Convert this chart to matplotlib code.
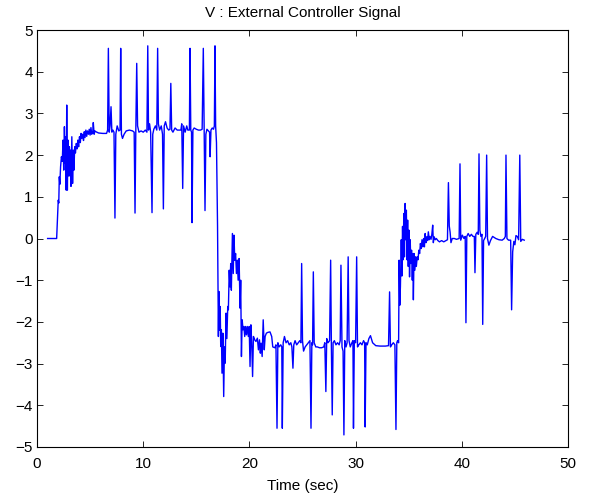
import numpy as np
import matplotlib.pyplot as plt

plt.rcParams['font.family'] = ['Liberation Sans', 'DejaVu Sans']

# start, step up and settling around +2.5
t_rise = [1.0, 1.85, 2.0, 2.05, 2.1, 2.15, 2.22, 2.3, 2.38, 2.45, 2.52, 2.58, 2.65, 2.7, 2.75,
          2.8, 2.86, 2.92, 2.98, 3.05, 3.1, 3.15, 3.2, 3.28, 3.35, 3.42, 3.48, 3.55, 3.62, 3.7,
          3.78, 3.85, 3.92, 4.0, 4.08, 4.15, 4.22, 4.3, 4.38, 4.45, 4.52, 4.6, 4.68, 4.75, 4.85,
          4.92, 5.0, 5.08, 5.15, 5.25, 5.3, 5.38, 5.45, 5.55, 5.8, 6.2, 6.55, 6.65]
v_rise = [0.0, 0.0, 0.92, 0.85, 1.48, 1.3, 1.72, 1.96, 1.85, 2.36, 1.64, 2.68, 1.8, 2.44, 1.16,
          3.2, 1.16, 2.36, 1.5, 2.2, 1.5, 2.12, 1.25, 2.44, 1.32, 2.12, 1.64, 2.2, 2.05, 2.28,
          2.15, 2.36, 2.2, 2.44, 2.3, 2.52, 2.4, 2.5, 2.35, 2.56, 2.42, 2.6, 2.45, 2.58, 2.5,
          2.62, 2.48, 2.66, 2.5, 2.55, 2.78, 2.5, 2.58, 2.56, 2.53, 2.52, 2.52, 2.6]

# spikes on the positive plateau
t_high = [6.72, 6.8, 6.88, 6.97, 7.05, 7.15, 7.25, 7.34, 7.42, 7.55, 7.7, 7.82, 7.88, 7.95, 8.05,
          8.2, 8.4, 8.7, 9.0, 9.15, 9.23, 9.3, 9.39, 9.47, 9.6, 9.8, 10.0, 10.2, 10.35, 10.43,
          10.5, 10.6, 10.7, 10.83, 10.9, 11.0, 11.15, 11.28, 11.36, 11.43, 11.55, 11.7, 11.82,
          11.9, 11.98, 12.1, 12.25, 12.4, 12.52, 12.6, 12.68, 12.8, 13.0, 13.2, 13.4, 13.55,
          13.63, 13.72, 13.8, 13.95, 14.1, 14.2, 14.35, 14.41, 14.48, 14.55, 14.6, 14.68, 14.8,
          15.0, 15.2, 15.4, 15.55, 15.66, 15.74, 15.82, 15.9, 16.0, 16.15, 16.25, 16.3, 16.38,
          16.5, 16.62, 16.7, 16.76, 16.82, 16.9]
v_high = [4.56, 2.55, 2.7, 3.16, 2.55, 2.6, 2.55, 0.49, 2.5, 2.7, 2.58, 2.6, 4.56, 2.5, 2.4,
          2.5, 2.58, 2.6, 2.58, 2.55, 0.61, 2.5, 4.2, 2.7, 2.55, 2.58, 2.55, 2.6, 2.55, 4.62,
          2.6, 2.75, 2.55, 0.62, 2.5, 2.62, 2.7, 2.6, 4.56, 2.75, 2.6, 2.7, 2.5,
          0.71, 2.7, 2.8, 2.65, 2.6, 2.62, 3.72, 2.6, 2.55, 2.65, 2.6, 2.6, 2.6,
          2.75, 1.2, 2.7, 2.55, 2.7, 2.6, 2.6, 4.56, 2.6, 2.55, 0.38, 2.6, 2.65,
          2.62, 2.6, 2.6, 2.62, 4.56, 2.6, 0.67, 2.5, 2.62, 2.58, 2.55, 1.96, 2.6,
          2.65, 2.62, 2.7, 4.62, 2.7, 2.3]

# drop to the negative plateau
t_fall = [17.0, 17.08, 17.13, 17.2, 17.25, 17.3, 17.36, 17.42, 17.5, 17.58, 17.65, 17.72, 17.8,
          17.88, 17.96, 18.02, 18.1, 18.17, 18.24, 18.3, 18.4, 18.48, 18.55, 18.62, 18.7, 18.78,
          18.86, 18.94, 19.03, 19.12, 19.18, 19.25, 19.32, 19.4, 19.48, 19.56, 19.64, 19.72,
          19.8, 19.9, 19.98, 20.06, 20.14, 20.22, 20.3, 20.38, 20.5, 20.62, 20.75, 20.85, 20.95,
          21.03, 21.1, 21.2, 21.3, 21.4, 21.48, 21.6, 21.75, 21.94, 22.1, 22.2, 22.4, 22.5]
v_fall = [0.3, -2.35, -1.27, -2.2, -1.63, -2.59, -2.19, -3.23, -2.27, -3.79, -2.6, -2.99, -1.79,
          -2.4, -1.63, -1.71, -0.76, -1.16, -0.6, -1.24, 0.12, -0.84, 0.08, -0.52, -0.36, -0.84,
          -0.52, -1.0, -0.48, -1.67, -1.0, -2.83, -1.95, -2.19, -2.11, -2.35, -2.11, -2.31,
          -2.11, -2.35, -2.11, -3.07, -2.07, -2.51, -3.31, -2.35, -2.43, -2.47, -2.39, -2.67, -2.43,
          -2.75, -2.51, -2.83, -1.95, -2.67, -2.35, -2.27, -2.25, -2.24, -2.35, -2.6, -2.62, -2.55]

# spikes on the negative plateau
t_low = [22.6, 22.68, 22.8, 22.95, 23.05, 23.1, 23.18, 23.3, 23.45, 23.6, 23.75, 23.9, 24.0, 24.1,
         24.18, 24.3, 24.45, 24.6, 24.75, 24.85, 24.92, 25.0, 25.1, 25.25, 25.4, 25.55, 25.7,
         25.8, 25.88, 25.95, 26.02, 26.1, 26.25, 26.4, 26.6, 26.8, 27.0, 27.1, 27.2, 27.28,
         27.4, 27.55, 27.65, 27.72, 27.8, 27.88, 28.0, 28.15, 28.3, 28.45, 28.55, 28.62, 28.72,
         28.82, 28.9, 28.98, 29.1, 29.2, 29.3, 29.38, 29.5, 29.65, 29.75, 29.8, 29.88, 30.0,
         30.1, 30.18, 30.3, 30.45, 30.6, 30.75, 30.85, 30.9, 30.98, 31.1, 31.25, 31.4, 31.6,
         31.9, 32.3, 32.8, 33.1, 33.2, 33.28, 33.4, 33.55, 33.7, 33.8, 33.88, 33.95, 34.05]
v_low = [-4.55, -2.5, -2.6, -2.55, -2.6, -4.55, -2.5, -2.35, -2.5, -2.45, -2.55, -2.5, -2.6, -3.11,
         -2.55, -2.45, -2.55, -2.5, -2.45, -2.5, -0.6, -2.45, -2.7, -2.6, -2.55, -2.5, -2.45,
         -4.55, -2.5, -2.55, -0.8, -2.5, -2.6, -2.6, -2.62, -2.62, -2.6, -2.5, -3.67, -2.4,
         -2.5, -2.45, -0.52, -2.6, -4.23, -2.5, -2.45, -2.55, -2.5, -2.55, -2.45, -0.64, -2.6,
         -2.7, -4.71, -2.45, -2.6, -2.5, -0.44, -2.45, -2.6, -2.5, -2.45, -4.55, -2.45, -2.5,
         -0.44, -2.6, -2.55, -2.5, -2.55, -2.45, -2.5, -4.52, -2.5, -2.55, -2.4, -2.33, -2.5,
         -2.57, -2.58, -2.58, -2.57, -1.28, -2.6, -2.55, -2.5, -2.55, -4.58, -2.5, -2.45, -2.5]

# step back up to zero
t_up = [34.1, 34.16, 34.22, 34.3, 34.36, 34.42, 34.48, 34.54, 34.6, 34.66, 34.72, 34.78, 34.84,
        34.9, 34.96, 35.02, 35.08, 35.14, 35.2, 35.27, 35.34, 35.4, 35.44, 35.5, 35.58, 35.65,
        35.72, 35.8, 35.88, 35.95, 36.03, 36.1, 36.18, 36.25, 36.33, 36.4, 36.48, 36.55, 36.63,
        36.7, 36.78, 36.85, 36.93, 37.0, 37.1, 37.18, 37.26, 37.32, 37.4, 37.5, 37.6, 37.75,
        37.9, 38.1, 38.3, 38.5, 38.65]
v_up = [-0.52, -1.6, -1.15, -0.03, -0.9, 0.29, -0.51, 0.6, -0.44, 0.84, -0.03, 0.68, -0.51,
        0.44, -0.67, 0.2, -0.92, -0.03, -0.6, -0.28, -1.0, -0.36, -1.47, -0.36, -0.76, -0.44,
        -0.67, -0.44, -0.51, -0.28, -0.36, -0.12, -0.24, -0.03, -0.2, 0.0, -0.2, 0.12, -0.1,
        0.04, -0.05, 0.16, -0.03, 0.05, -0.02, 0.1, 0.32, -0.1, 0.04, -0.03, 0.0, -0.05,
        -0.08, -0.05, -0.08, -0.05, -0.03]

# spikes around zero
t_zero = [38.74, 38.82, 38.9, 38.98, 39.1, 39.3, 39.5, 39.75, 39.83, 39.9, 40.05, 40.2, 40.32,
          40.39, 40.47, 40.6, 40.75, 40.9, 41.05, 41.18, 41.24, 41.32, 41.45, 41.55, 41.62, 41.7,
          41.8, 41.9, 41.97, 42.05, 42.15, 42.25, 42.34, 42.42, 42.55, 42.7, 42.9, 43.2, 43.5,
          43.8, 44.0, 44.1, 44.16, 44.25, 44.4, 44.6, 44.69, 44.79, 44.9, 45.0, 45.1, 45.22,
          45.35, 45.46, 45.55, 45.7, 45.88]
v_zero = [1.34, 0.3, 0.15, -0.1, 0.0, 0.0, -0.02, 0.0, 1.79, -0.04, 0.08, 0.0, 0.05,
          -2.02, 0.05, 0.12, 0.05, 0.1, 0.05, 0.05, -0.82, 0.1, 0.15, 0.1, 2.03, 0.2,
          0.05, 0.1, -2.06, -0.05, 0.0, 0.05, 2.0, 0.0, -0.16, -0.05, 0.05, 0.0, -0.03,
          -0.04, 0.0, 0.05, 2.0, 0.0, -0.04, -0.04, -1.71, -0.32, -0.07, -0.15, 0.07, 0.05,
          -0.03, 2.0, -0.07, -0.02, -0.04]

t = np.concatenate([t_rise, t_high, t_fall, t_low, t_up, t_zero])
v = np.concatenate([v_rise, v_high, v_fall, v_low, v_up, v_zero])

fig = plt.figure(figsize=(5.89, 4.96), dpi=100)
ax = fig.add_axes([37 / 589, 49 / 496, 531 / 589, 417 / 496])
ax.plot(t, v, color='#0000ff', lw=1.0)
ax.set_xlim(0, 50)
ax.set_ylim(-5, 5)
ax.set_xticks(np.arange(0, 51, 10))
ax.set_yticks(np.arange(-5, 6, 1))
ax.tick_params(direction='in', top=True, right=True, length=4, width=0.6,
               labelsize=11)
ax.tick_params(axis='x', pad=7)
ax.tick_params(axis='y', pad=3)
for s in ax.spines.values():
    s.set_linewidth(0.8)
ax.set_title('V : External Controller Signal', fontsize=11, pad=9)
ax.set_xlabel('Time (sec)', fontsize=11, labelpad=6)
fig.savefig('out.png', dpi=100)
